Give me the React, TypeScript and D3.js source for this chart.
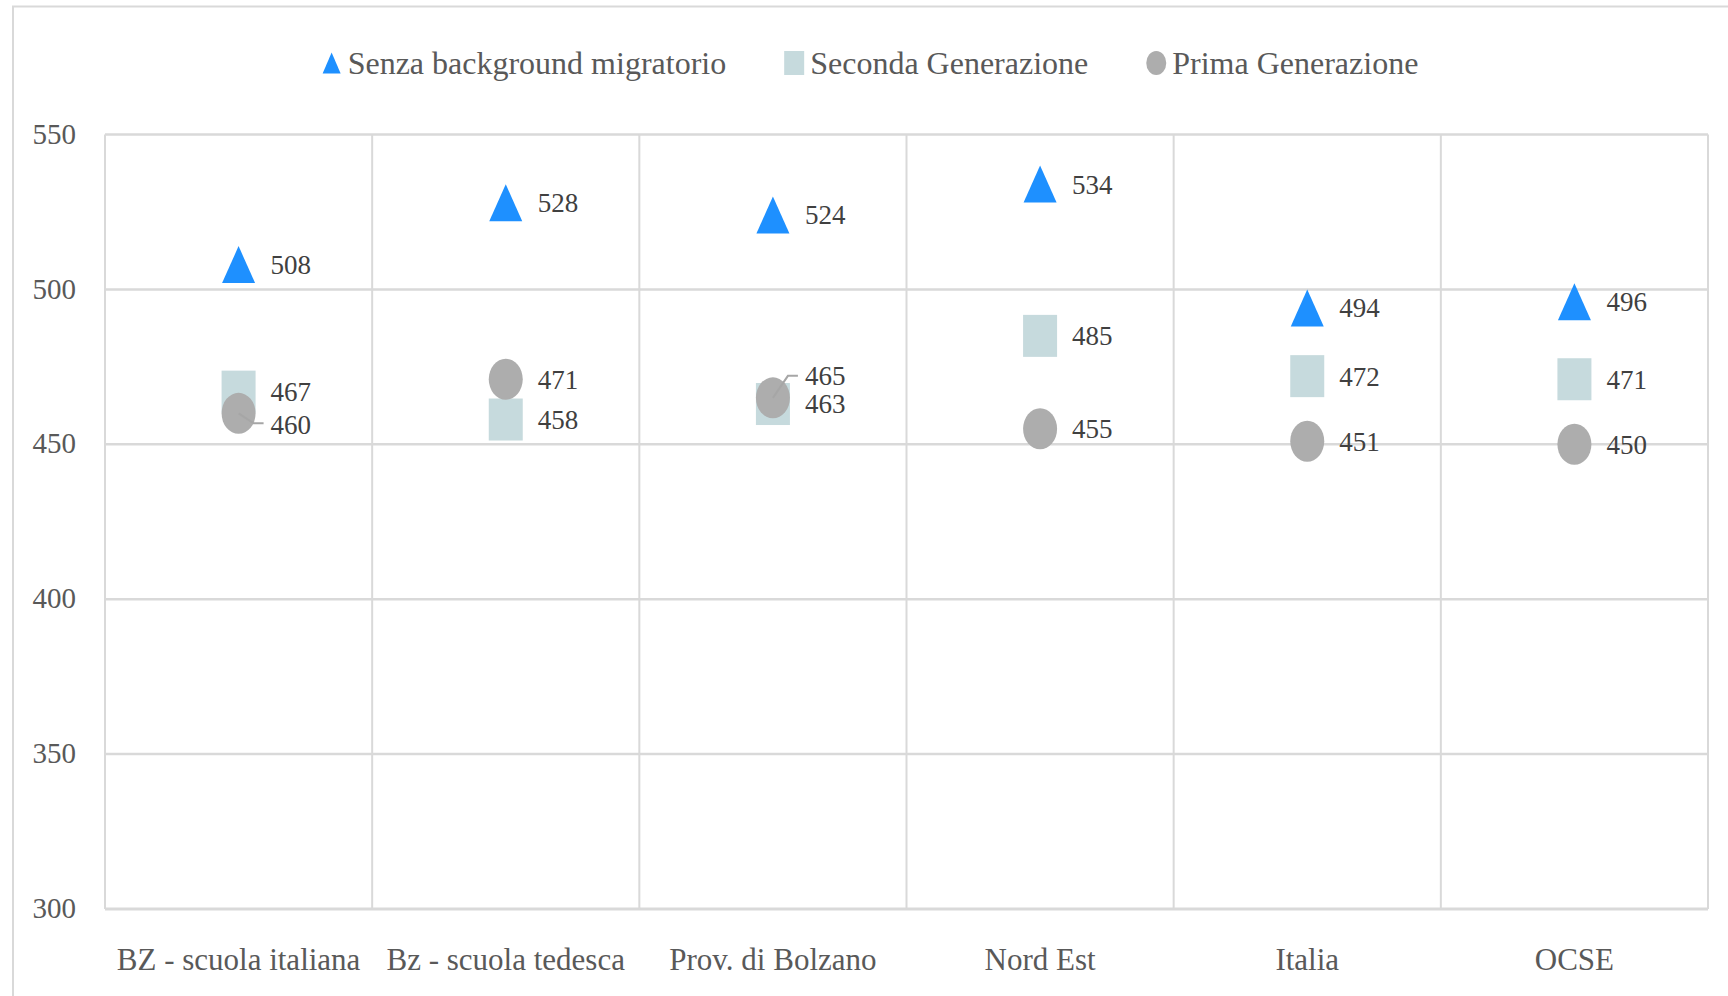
import React, { useEffect, useRef } from 'react';
import * as d3 from 'd3';

const categories = ['BZ - scuola italiana', 'Bz - scuola tedesca', 'Prov. di Bolzano', 'Nord Est', 'Italia', 'OCSE'];
const senzaBackground = [508, 528, 524, 534, 494, 496];
const secondaGenerazione = [467, 458, 463, 485, 472, 471];
const primaGenerazione = [460, 471, 465, 455, 451, 450];
const yTicks = [300, 350, 400, 450, 500, 550];

const seriesNames = ['Senza background migratorio', 'Seconda Generazione', 'Prima Generazione'];
const seriesColors = ['#1e90ff', '#c6dadd', '#adadad'];
const seriesShapes = ['triangle', 'square', 'circle'];

// labels that Excel pushed away from their marker (series index, category index, dy)
const labelNudges = [
  { s: 2, c: 0, dy: 11 },
  { s: 2, c: 2, dy: -22 },
];

const FONT = '"Liberation Serif", "Times New Roman", serif';

function drawShape(g: any, shape: string, cx: number, cy: number, color: string, w: number, h: number) {
  if (shape === 'triangle') {
    g.append('path')
      .attr('d', `M${cx},${cy - h / 2}L${cx + w / 2},${cy + h / 2}L${cx - w / 2},${cy + h / 2}Z`)
      .attr('fill', color);
  } else if (shape === 'square') {
    g.append('rect')
      .attr('x', cx - w / 2).attr('y', cy - h / 2)
      .attr('width', w).attr('height', h)
      .attr('fill', color);
  } else {
    g.append('ellipse')
      .attr('cx', cx).attr('cy', cy)
      .attr('rx', w / 2).attr('ry', h / 2)
      .attr('fill', color);
  }
}

export default function App() {
  const ref = useRef<SVGSVGElement>(null);

  useEffect(() => {
    document.body.style.margin = '0';
    const width = 1728;
    const height = 996;
    const svg = d3.select(ref.current);
    svg.selectAll('*').remove();
    svg.attr('width', width).attr('height', height).style('background', '#fff');

    // outer chart frame
    svg.append('rect')
      .attr('x', 13).attr('y', 6.5)
      .attr('width', width).attr('height', height)
      .attr('fill', 'none').attr('stroke', '#d9d9d9').attr('stroke-width', 2);

    const x = d3.scaleBand().domain(categories).range([105, 1708]);
    const y = d3.scaleLinear().domain([300, 550]).range([909, 134.5]);

    const grid = svg.append('g');
    // horizontal gridlines
    grid.selectAll('line.h')
      .data(yTicks)
      .enter()
      .append('line')
      .attr('x1', x.range()[0]).attr('x2', x.range()[1])
      .attr('y1', d => y(d)).attr('y2', d => y(d))
      .attr('stroke', '#d9d9d9').attr('stroke-width', d => (d === 300 ? 3 : 2.5));
    // vertical category separators
    const bounds = categories.map(c => x(c) as number).concat([x.range()[1]]);
    grid.selectAll('line.v')
      .data(bounds)
      .enter()
      .append('line')
      .attr('x1', d => d).attr('x2', d => d)
      .attr('y1', y(550)).attr('y2', y(300))
      .attr('stroke', '#d9d9d9').attr('stroke-width', 2);

    // y axis labels
    svg.append('g').selectAll('text')
      .data(yTicks)
      .enter()
      .append('text')
      .attr('x', 76)
      .attr('y', d => y(d) - 1)
      .attr('dy', '0.35em')
      .attr('text-anchor', 'end')
      .attr('font-family', FONT).attr('font-size', 29)
      .attr('fill', '#595959')
      .text(d => d);

    // category labels
    svg.append('g').selectAll('text')
      .data(categories)
      .enter()
      .append('text')
      .attr('x', d => (x(d) as number) + x.bandwidth() / 2)
      .attr('y', 959)
      .attr('dy', '0.35em')
      .attr('text-anchor', 'middle')
      .attr('font-family', FONT).attr('font-size', 31)
      .attr('fill', '#595959')
      .text(d => d);

    const allSeries = [senzaBackground, secondaGenerazione, primaGenerazione];
    const sizes = [[33, 37], [34, 42], [34, 41]];

    const marks = svg.append('g');
    allSeries.forEach((vals, s) => {
      vals.forEach((v, i) => {
        const cx = (x(categories[i]) as number) + x.bandwidth() / 2;
        drawShape(marks, seriesShapes[s], cx, y(v), seriesColors[s], sizes[s][0], sizes[s][1]);
      });
    });

    // data labels + leader lines
    const labels = svg.append('g');
    allSeries.forEach((vals, s) => {
      vals.forEach((v, i) => {
        const cx = (x(categories[i]) as number) + x.bandwidth() / 2;
        const cy = y(v);
        const nudge = labelNudges.find(n => n.s === s && n.c === i);
        const lx = cx + 32;
        const ly = cy + (nudge ? nudge.dy : 0);
        if (nudge) {
          const yy = ly + (nudge.dy > 0 ? -1 : 0);
          labels.append('path')
            .attr('d', `M${cx},${cy}L${lx - 17},${yy}L${lx - 7},${yy}`)
            .attr('fill', 'none')
            .attr('stroke', '#a6a6a6').attr('stroke-width', 2);
        }
        labels.append('text')
          .attr('x', lx).attr('y', ly)
          .attr('dy', '0.35em')
          .attr('font-family', FONT).attr('font-size', 27)
          .attr('fill', '#404040')
          .text(v);
      });
    });

    // legend, centred over the chart frame
    const legend = svg.append('g');
    const items = seriesNames.map((name, s) => {
      const g = legend.append('g');
      drawShape(g, seriesShapes[s], 10, 0, seriesColors[s], s === 0 ? 18 : 20, s === 0 ? 21 : 24);
      const t = g.append('text')
        .attr('x', 26).attr('y', 0).attr('dy', '0.35em')
        .attr('font-family', FONT).attr('font-size', 32)
        .attr('fill', '#595959')
        .text(name);
      const w = 26 + (t.node() as SVGTextElement).getComputedTextLength();
      return { g, w };
    });
    const gap = 58;
    const total = d3.sum(items, d => d.w) + gap * (items.length - 1);
    let cursor = 870 - total / 2;
    items.forEach(it => {
      it.g.attr('transform', `translate(${cursor},63)`);
      cursor += it.w + gap;
    });
  }, []);

  return <svg ref={ref}></svg>;
}
